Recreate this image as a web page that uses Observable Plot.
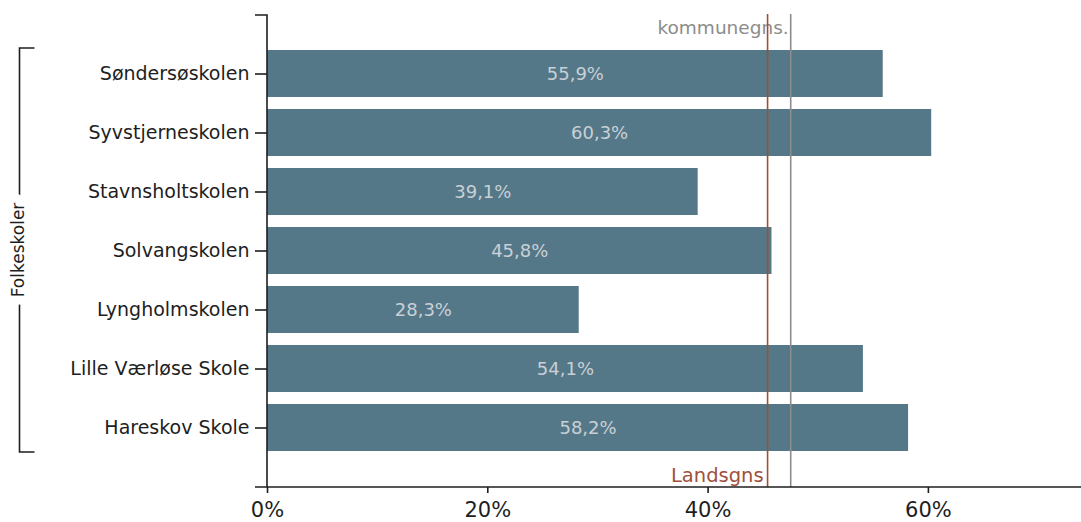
<!DOCTYPE html>
<html><head><meta charset="utf-8">
<script src="https://cdn.jsdelivr.net/npm/d3@7"></script>
<script src="https://cdn.jsdelivr.net/npm/@observablehq/plot@0.6"></script>
<style>body{margin:0;background:#fff}</style>
</head><body><div id="chart"></div>
<script>
const schools = ["Søndersøskolen", "Syvstjerneskolen", "Stavnsholtskolen", "Solvangskolen", "Lyngholmskolen", "Lille Værløse Skole", "Hareskov Skole"];
const shares = [55.9, 60.3, 39.1, 45.8, 28.3, 54.1, 58.2];
const groupLabel = "Folkeskoler";
const refLabels = ["Landsgns", "kommunegns."];
const refValues = [45.4, 47.5];
const xTicks = [0, 20, 40, 60];

const data = schools.map((s, i) => ({school: s, value: shares[i]}));
const refs = refLabels.map((l, i) => ({label: l, value: refValues[i]}));
const fmt = v => v.toFixed(1).replace(".", ",") + "%";
const refColor = ["#a0502f", "#8c8c8c"];

function axisLines(index, scales, values, dim) {
  const g = d3.create("svg:g").attr("stroke", "#1e1e1e").attr("stroke-width", 1.6).attr("fill", "none");
  const x0 = scales.x(0), top = dim.marginTop + 1, bottom = dim.height - dim.marginBottom;
  g.append("path").attr("d", `M${x0 - 12},${top}H${x0}V${bottom}`);
  g.append("path").attr("d", `M${x0 - 12},${bottom}H${dim.width}`);
  return g.node();
}

function bracket(index, scales, values, dim) {
  const y = scales.y;
  const bw = typeof y.bandwidth === "function" ? y.bandwidth() : (scales.scales && scales.scales.y ? scales.scales.y.bandwidth : 0);
  const y0 = y(schools[0]) - 2, y1 = y(schools[schools.length - 1]) + bw + 1;
  const bx = 19.5;
  const g = d3.create("svg:g");
  g.append("path").attr("d", `M${bx + 15},${y0}H${bx}V${y1}H${bx + 15}`)
    .attr("fill", "none").attr("stroke", "#1e1e1e").attr("stroke-width", 1.6);
  g.append("text").text(groupLabel)
    .attr("transform", `translate(${bx + 4},${(y0 + y1) / 2}) rotate(-90)`)
    .attr("text-anchor", "middle")
    .attr("font-size", 17)
    .attr("fill", "#1e1e1e")
    .attr("stroke", "white").attr("stroke-width", 18).attr("stroke-linejoin", "round")
    .attr("paint-order", "stroke");
  return g.node();
}

const chart = Plot.plot({
  width: 1081,
  height: 522,
  marginLeft: 267,
  marginRight: 0,
  marginTop: 14,
  marginBottom: 35,
  style: {fontFamily: "'DejaVu Sans', sans-serif", color: "#1e1e1e", background: "white"},
  x: {domain: [0, 73.9], axis: null},
  y: {domain: schools, paddingInner: 0.21, paddingOuter: 0.61, axis: null},
  marks: [
    Plot.barX(data, {x: "value", y: "school", fill: "#557889"}),
    Plot.text(data, {x: d => d.value / 2, y: "school", text: d => fmt(d.value), fill: "#c9d0d6", fontSize: 18}),
    Plot.text(refs.filter(d => d.label === refLabels[1]), {x: "value", text: "label", frameAnchor: "top", textAnchor: "end", dx: -2, dy: 6, fill: "#8c8c8c", fontSize: 18.5}),
    Plot.text(refs.filter(d => d.label === refLabels[0]), {x: "value", text: "label", frameAnchor: "bottom", textAnchor: "end", dx: -4, dy: -6, fill: "#a0503c", fontSize: 19.5}),
    Plot.ruleX(refs, {x: "value", stroke: (d, i) => refColor[i], strokeWidth: 1.6}),
    Plot.axisX({ticks: xTicks, tickFormat: d => d + "%", tickSize: 6, tickPadding: 9, fontSize: 21, strokeWidth: 1.6, label: null}),
    Plot.axisY({tickSize: 12, tickPadding: 6, fontSize: 19, strokeWidth: 1.6, label: null}),
    axisLines,
    bracket
  ]
});
document.getElementById("chart").append(chart);
</script>
</body></html>
